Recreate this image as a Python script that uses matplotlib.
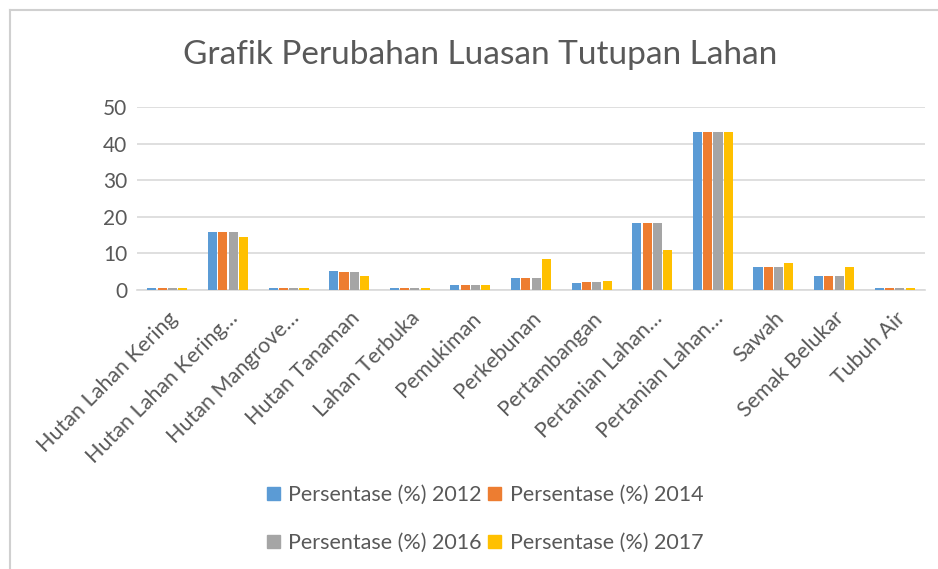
import numpy as np
import matplotlib
matplotlib.use("Agg")
import matplotlib.pyplot as plt
from matplotlib.lines import Line2D
from matplotlib.patches import Patch

plt.rcParams['font.family'] = ['Lato', 'DejaVu Sans']

categories = ["Hutan Lahan Kering", "Hutan Lahan Kering…", "Hutan Mangrove…",
              "Hutan Tanaman", "Lahan Terbuka", "Pemukiman", "Perkebunan",
              "Pertambangan", "Pertanian Lahan…", "Pertanian Lahan…",
              "Sawah", "Semak Belukar", "Tubuh Air"]

series_names = ["Persentase (%) 2012", "Persentase (%) 2014",
                "Persentase (%) 2016", "Persentase (%) 2017"]
p2012 = [0.5, 15.8, 0.5, 5.2, 0.5, 1.5, 3.2, 1.8, 18.2, 43.2, 6.3, 3.8, 0.5]
p2014 = [0.5, 15.8, 0.5, 4.8, 0.5, 1.5, 3.2, 2.2, 18.2, 43.2, 6.3, 3.8, 0.5]
p2016 = [0.5, 15.8, 0.5, 4.8, 0.5, 1.5, 3.2, 2.2, 18.2, 43.2, 6.3, 3.8, 0.5]
p2017 = [0.5, 14.5, 0.5, 3.8, 0.5, 1.5, 8.5, 2.5, 10.9, 43.2, 7.5, 6.2, 0.5]
colors = ["#5B9BD5", "#ED7D31", "#A5A5A5", "#FFC000"]

grey = "#595959"
fig = plt.figure(figsize=(9.38, 5.69), dpi=100)
ax = fig.add_axes([137 / 938, 1 - 290 / 569, (925 - 137) / 938, (290 - 107) / 569])

x = np.arange(len(categories))
step = 0.17
for i, (vals, c) in enumerate(zip([p2012, p2014, p2016, p2017], colors)):
    ax.bar(x + (i - 1.5) * step, vals, width=0.15, color=c, linewidth=0,
           zorder=3, label=series_names[i])

ax.set_xlim(-0.5, len(categories) - 0.5)
ax.set_ylim(0, 50)
ax.set_yticks(range(0, 51, 10))
ax.grid(axis="y", color="#d9d9d9", linewidth=1.2, zorder=0)
for s in ["top", "right", "left"]:
    ax.spines[s].set_visible(False)
ax.spines["bottom"].set_color("#d9d9d9")
ax.spines["bottom"].set_linewidth(1.2)
ax.tick_params(axis="both", length=0, colors=grey, labelsize=15)
ax.tick_params(axis="x", labelsize=15.5, pad=13)
ax.tick_params(axis="y", pad=7)
ax.set_xticks(x)
ax.set_xticklabels(categories, rotation=45, ha="right", rotation_mode="anchor")

fig.text(480 / 938, 1 - 55 / 569, "Grafik Perubahan Luasan Tutupan Lahan",
         ha="center", va="center", fontsize=24, color=grey)

handles = [Patch(color=c) for c in colors]
order = [0, 2, 1, 3]
fig.legend([handles[k] for k in order], [series_names[k] for k in order],
           ncol=2, loc="center", bbox_to_anchor=(485 / 938, 1 - 519 / 569),
           frameon=False, fontsize=15.5, labelcolor=grey, handlelength=0.6,
           handleheight=0.6, handletextpad=0.4, columnspacing=0.3,
           labelspacing=1.3)

# outer frame (top and left edges of the chart border)
fig.add_artist(Line2D([10 / 938, 10 / 938], [0, 1 - 10 / 569], color="#d0d0d0",
                      linewidth=1.5, transform=fig.transFigure))
fig.add_artist(Line2D([10 / 938, 1], [1 - 10 / 569, 1 - 10 / 569], color="#d0d0d0",
                      linewidth=1.5, transform=fig.transFigure))

fig.savefig("out.png", dpi=100)
